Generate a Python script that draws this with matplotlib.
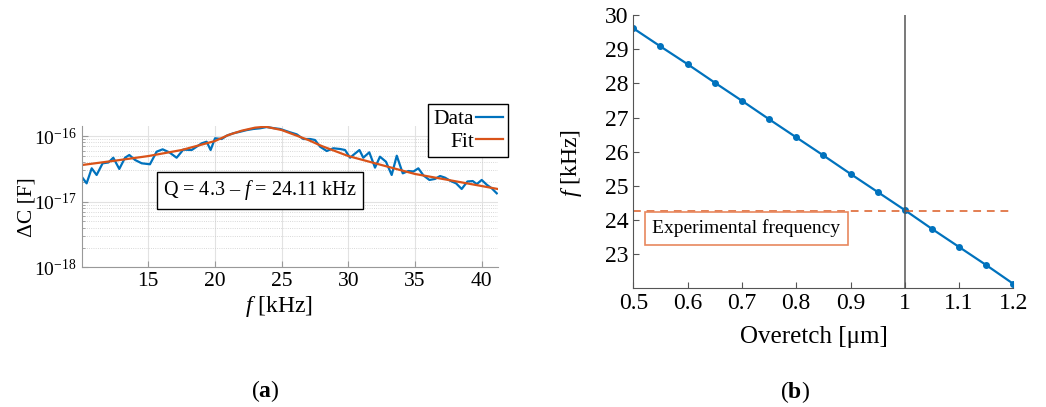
import matplotlib
matplotlib.use("Agg")
import matplotlib.pyplot as plt
import numpy as np

# ---- panel (a): measured capacitance change vs frequency ----
data_f = [10.0, 10.37, 10.75, 11.12, 11.57, 12.0, 12.37, 12.82, 13.25, 13.57,
          14.0, 14.5, 15.12, 15.62, 16.07, 16.57, 17.12, 17.62, 18.25, 18.62,
          19.0, 19.37, 19.67, 20.0, 20.5, 20.87, 21.37, 21.87, 22.37, 22.87,
          23.37, 23.87, 24.37, 24.88, 25.62, 26.13, 26.62, 27.13, 27.5, 27.88,
          28.38, 28.87, 29.38, 29.75, 30.13, 30.43, 30.83, 31.12, 31.57, 32.0,
          32.37, 32.82, 33.25, 33.63, 34.08, 34.5, 34.88, 35.25, 35.63, 36.08,
          36.5, 36.88, 37.25, 37.68, 38.08, 38.5, 38.93, 39.33, 39.63, 40.0,
          40.38, 40.75, 41.13]
data_dc = [2.40, 1.90, 3.22, 2.55, 3.84, 3.95, 4.67, 3.15, 4.67, 5.14,
           4.32, 3.84, 3.71, 5.77, 6.27, 5.64, 4.67, 6.20, 6.12, 6.87,
           7.74, 8.19, 6.12, 9.23, 9.00, 10.1, 11.0, 11.6, 12.3, 12.8,
           13.1, 13.7, 13.2, 12.8, 11.4, 10.6, 9.00, 9.00, 8.69, 6.87,
           5.91, 6.50, 6.34, 6.12, 4.67, 5.26, 6.12, 4.67, 5.64, 3.30,
           4.84, 4.06, 2.55, 5.01, 2.70, 2.93, 2.88, 3.22, 2.51, 2.14,
           2.22, 2.46, 2.32, 2.06, 1.90, 1.56, 2.03, 2.06, 1.85, 2.14,
           1.81, 1.60, 1.34]  # x 1e-17 F

fit_f = [10.0, 12.5, 15.0, 17.5, 20.0, 21.0, 22.0, 23.0, 23.8, 25.0,
         26.0, 27.0, 28.0, 30.0, 32.5, 35.0, 37.5, 40.0, 41.2]
fit_dc = [3.61, 4.21, 4.95, 6.12, 8.39, 10.35, 12.05, 13.4, 13.87, 12.33,
          10.35, 8.69, 7.04, 4.95, 3.61, 2.64, 2.14, 1.73, 1.56]  # x 1e-17 F

# ---- panel (b): simulated frequency vs overetch ----
overetch = [0.5, 0.55, 0.6, 0.65, 0.7, 0.75, 0.8, 0.85, 0.9, 0.95,
            1.0, 1.05, 1.1, 1.15, 1.2]
freq_sim = [29.61, 29.08, 28.56, 28.02, 27.49, 26.95, 26.42, 25.89, 25.35, 24.82,
            24.29, 23.74, 23.21, 22.68, 22.13]
f_exp = 24.25
overetch_match = 1.0

blue = '#0072BD'
orange = '#D95319'

plt.rcParams['font.family'] = ['Liberation Serif', 'DejaVu Serif']
plt.rcParams['mathtext.fontset'] = 'custom'
plt.rcParams['mathtext.rm'] = 'Liberation Serif'
plt.rcParams['mathtext.it'] = 'Liberation Serif:italic'
plt.rcParams['mathtext.bf'] = 'Liberation Serif:bold'

fig = plt.figure(figsize=(10.46, 4.07), dpi=100)

# ---------------- (a) ----------------
ax1 = fig.add_axes([0.0781, 0.3432, 0.3977, 0.3462])
ax1.set_yscale('log')
ax1.plot(data_f, np.array(data_dc) * 1e-17, color=blue, lw=1.6, label='Data')
ax1.plot(fit_f, np.array(fit_dc) * 1e-17, color=orange, lw=1.6, label='Fit')
ax1.set_xlim(10, 41.2)
ax1.set_ylim(1e-18, 1.4e-16)
ax1.set_xticks([15, 20, 25, 30, 35, 40])
ax1.set_yticks([1e-18, 1e-17, 1e-16])
ax1.set_yticklabels(['$10^{-18}$', '$10^{-17}$', '$10^{-16}$'])
ax1.grid(True, which='major', color='#e2e2e2', lw=0.8)
ax1.grid(True, which='minor', axis='y', color='#cccccc', lw=0.6, ls=':')
ax1.set_axisbelow(True)
for s in ['top', 'right']:
    ax1.spines[s].set_visible(False)
for s in ['left', 'bottom']:
    ax1.spines[s].set_color('#999999')
ax1.tick_params(which='both', direction='in', colors='#999999', labelcolor='black')
ax1.tick_params(axis='x', labelsize=15.5)
ax1.tick_params(axis='y', labelsize=14)
ax1.tick_params(which='major', length=4)
ax1.tick_params(which='minor', length=2)
ax1.set_xlabel('$f$ [kHz]', fontsize=17)
ax1.xaxis.set_label_coords(0.474, -0.28)
ax1.xaxis.label.set_va('center')
ax1.set_ylabel('ΔC [F]', fontsize=15.5)
ax1.yaxis.set_label_coords(-0.131, 0.43)
ax1.yaxis.label.set_va('center')

leg = ax1.legend(loc='upper left', bbox_to_anchor=(428 / 1046, 1 - 104 / 407),
                 bbox_transform=fig.transFigure, markerfirst=False, fancybox=False,
                 edgecolor='black', framealpha=1, fontsize=15.5, handlelength=1.25,
                 handletextpad=0.1, borderpad=0.25, labelspacing=0.1,
                 borderaxespad=0)
leg.get_frame().set_linewidth(1.0)

fig.text(260 / 1046, 1 - 190.5 / 407, 'Q = 4.3 – $f$ = 24.11 kHz', fontsize=14.5,
         ha='center', va='center',
         bbox=dict(boxstyle='square,pad=0.3', fc='white', ec='black', lw=1.0))

fig.text(265 / 1046, 1 - 391 / 407, r'($\mathbf{a}$)', fontsize=17,
         ha='center', va='center')

# ---------------- (b) ----------------
ax2 = fig.add_axes([0.6055, 0.2916, 0.3633, 0.6715])
ax2.plot(overetch, freq_sim, color=blue, lw=1.6, marker='o', ms=4)
ax2.axhline(f_exp, color=orange, lw=1.4, ls=(0, (4, 3)), alpha=0.75)
ax2.axvline(overetch_match, color='#555555', lw=1.1)
ax2.set_xlim(0.5, 1.2)
ax2.set_ylim(22, 30)
ax2.set_xticks([0.5, 0.6, 0.7, 0.8, 0.9, 1.0, 1.1, 1.2])
ax2.set_xticklabels(['0.5', '0.6', '0.7', '0.8', '0.9', '1', '1.1', '1.2'])
ax2.set_yticks([23, 24, 25, 26, 27, 28, 29, 30])
for s in ['top', 'right']:
    ax2.spines[s].set_visible(False)
for s in ['left', 'bottom']:
    ax2.spines[s].set_color('#555555')
ax2.tick_params(direction='in', length=4, colors='#555555', labelcolor='black',
                labelsize=17)
ax2.set_xlabel('Overetch [μm]', fontsize=18)
ax2.xaxis.set_label_coords(0.475, -0.178)
ax2.xaxis.label.set_va('center')
ax2.set_ylabel('$f$ [kHz]', fontsize=17)
ax2.yaxis.set_label_coords(-0.162, 0.458)
ax2.yaxis.label.set_va('center')

ax2.text(0.535, 24.02, 'Experimental frequency', fontsize=14, ha='left', va='top',
         bbox=dict(boxstyle='square,pad=0.38', fc='white', ec='#E8875E', lw=1.2))

fig.text(795 / 1046, 1 - 392 / 407, r'($\mathbf{b}$)', fontsize=17,
         ha='center', va='center')

fig.savefig('out.png', dpi=100)
